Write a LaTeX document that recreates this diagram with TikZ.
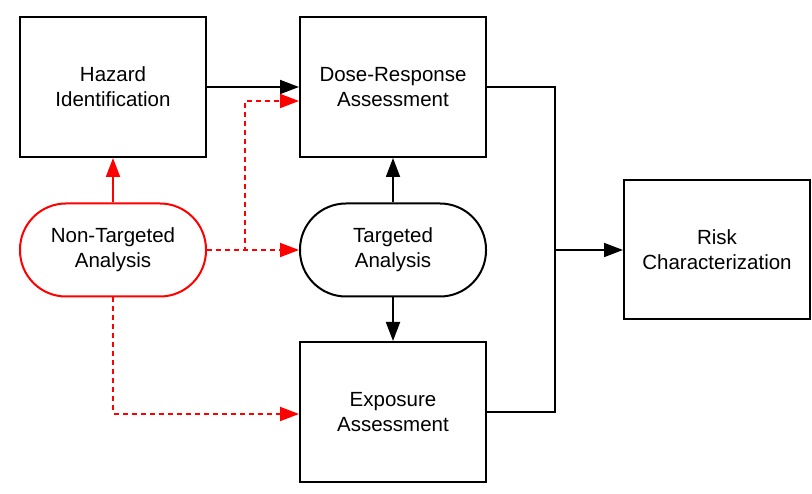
\documentclass[tikz,border=0pt]{standalone}
\usepackage{fontspec}
\setmainfont{Liberation Sans}
\usetikzlibrary{arrows.meta}
\definecolor{nred}{RGB}{255,0,0}
\tikzset{
  box/.style={draw=black, line width=2pt, minimum width=186pt, minimum height=140pt, inner sep=0pt, align=center, font=\fontsize{20.5pt}{25pt}\selectfont},
  pill/.style={box, minimum height=93pt, rounded corners=46pt},
  conn/.style={line width=1.8pt, -{Triangle[length=19pt,width=14pt]}},
  plain/.style={line width=1.8pt},
  redconn/.style={conn, draw=nred},
  reddash/.style={redconn, dash pattern=on 5pt off 4pt},
}
\begin{document}
\begin{tikzpicture}[x=1pt,y=-1pt]
\useasboundingbox (0,0) rectangle (812,494);
\fill[white] (0,0) rectangle (812,494);
\node[box] (haz) at (113,87) {Hazard\\Identification};
\node[box] (dose) at (393,87) {Dose-Response\\Assessment};
\node[pill, draw=nred] (nta) at (113,250) {Non-Targeted\\Analysis};
\node[pill] (ta) at (393,250) {Targeted\\Analysis};
\node[box] (exp) at (393,412) {Exposure\\Assessment};
\node[box, minimum height=139pt] (risk) at (717,250) {Risk\\Characterization};
\coordinate (j) at (555,250);
\coordinate (b) at (245,250);
\draw[conn] (haz.east) -- (dose.west);
\draw[redconn] (nta.north) -- (haz.south);
\draw[reddash] (nta.east) -- (ta.west);
\draw[reddash] (nta.east) -- (b) |- ([yshift=-14pt]dose.west);
\draw[reddash] (nta.south) |- ([yshift=-2pt]exp.west);
\draw[conn] (ta.north) -- (dose.south);
\draw[conn] (ta.south) -- (exp.north);
\draw[plain] (dose.east) -| (j);
\draw[plain] (exp.east) -| (j);
\draw[conn] (j) -- (risk.west);
\end{tikzpicture}
\end{document}
